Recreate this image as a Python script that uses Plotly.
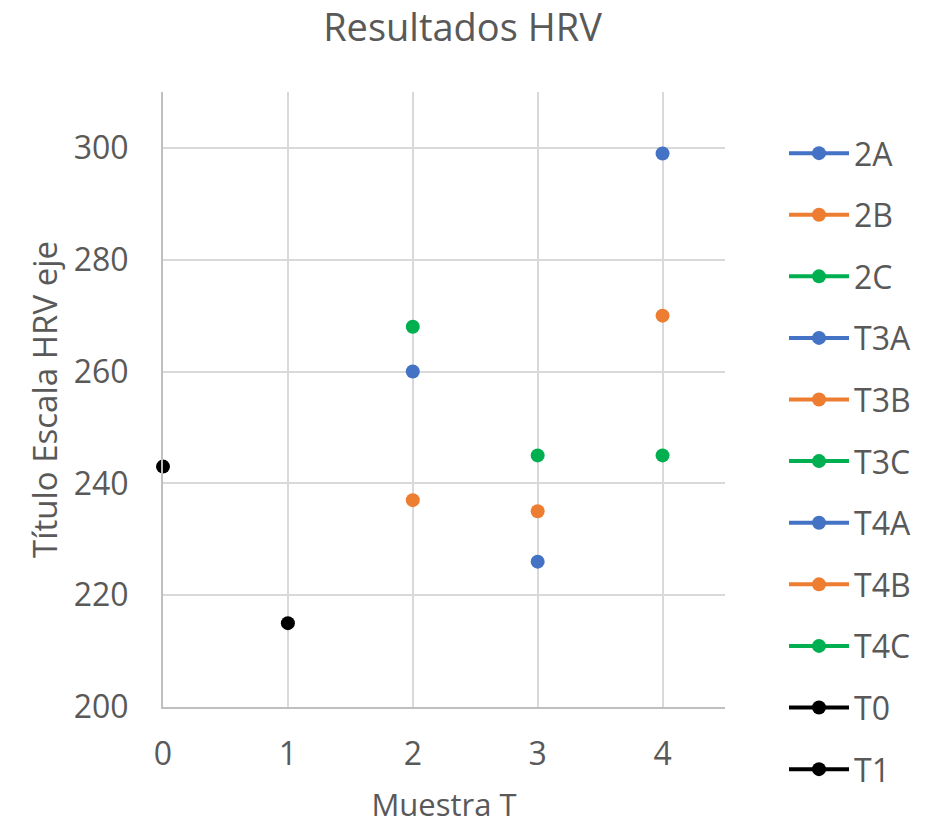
import plotly.graph_objects as go

# Series names, x position (muestra) and HRV values
series_names = ["2A", "2B", "2C", "T3A", "T3B", "T3C", "T4A", "T4B", "T4C", "T0", "T1"]
series_x = [2, 2, 2, 3, 3, 3, 4, 4, 4, 0, 1]
series_y = [260, 237, 268, 226, 235, 245, 299, 270, 245, 243, 215]
series_colors = ["#4472C4", "#ED7D31", "#00B050",
                 "#4472C4", "#ED7D31", "#00B050",
                 "#4472C4", "#ED7D31", "#00B050",
                 "#000000", "#000000"]

x_ticks = [0, 1, 2, 3, 4]
y_ticks = [200, 220, 240, 260, 280, 300]

FONT = "Open Sans"
GREY = "#595959"

fig = go.Figure()
for name, xv, yv, col in zip(series_names, series_x, series_y, series_colors):
    fig.add_trace(go.Scatter(
        x=[xv], y=[yv], name=name, legendgroup=name,
        mode="lines+markers", cliponaxis=False,
        line=dict(color=col, width=4),
        marker=dict(color=col, size=14),
    ))

fig.update_layout(
    width=925, height=825,
    margin=dict(l=163, r=200, t=92, b=118, autoexpand=False),
    paper_bgcolor="white", plot_bgcolor="white",
    font=dict(family=FONT, color=GREY, size=32),
    title=dict(text="Resultados HRV", x=0.5, xanchor="center", xref="container",
               y=0.967, yanchor="middle", font=dict(size=38, color=GREY)),
    showlegend=True,
    legend=dict(x=1.105, xref="paper", xanchor="left", y=0.945, yanchor="top",
                font=dict(size=32, color=GREY), tracegroupgap=17,
                itemwidth=60, maxheight=820, bgcolor="rgba(0,0,0,0)"),
    xaxis=dict(range=[0, 4.5], tickvals=x_ticks, showgrid=True, automargin=False,
               gridcolor="#D9D9D9", gridwidth=2, zeroline=False,
               showline=True, linecolor="#BFBFBF", linewidth=2,
               ticks="", ticklabelstandoff=18, tickfont=dict(size=32, color=GREY),
               title=dict(text="Muestra T", font=dict(size=31, color=GREY), standoff=21)),
    yaxis=dict(range=[200, 310], tickvals=y_ticks, showgrid=True, automargin=False,
               gridcolor="#D9D9D9", gridwidth=2, zeroline=False,
               showline=True, linecolor="#BFBFBF", linewidth=2,
               ticks="", ticklabelstandoff=26, tickfont=dict(size=32, color=GREY),
               title=dict(text="Título Escala HRV eje", font=dict(size=33, color=GREY), standoff=6)),
)

fig.write_html("out.html")
